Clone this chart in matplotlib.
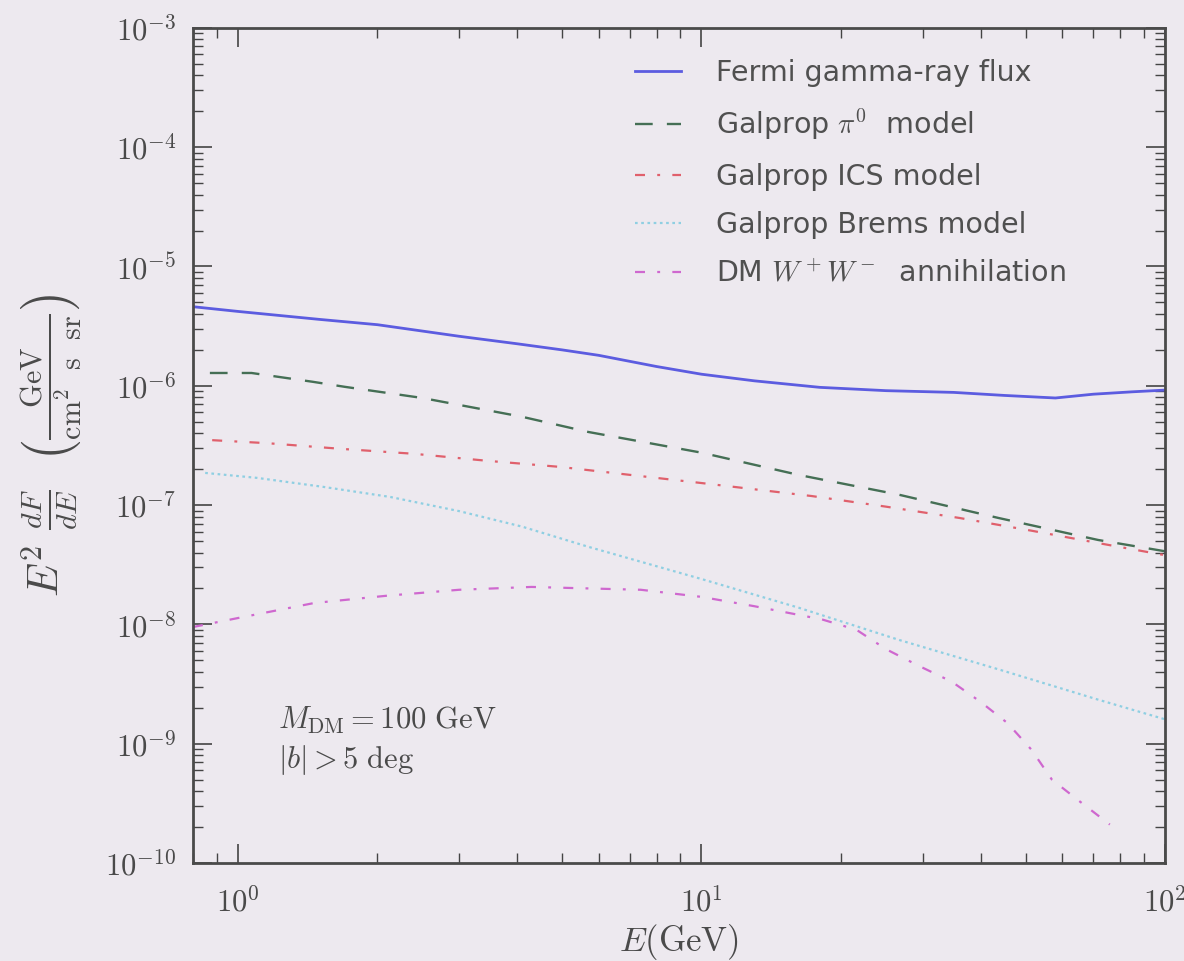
import numpy as np
import matplotlib
matplotlib.use("Agg")
import matplotlib.pyplot as plt
from matplotlib.ticker import FuncFormatter, LogLocator

plt.rcParams['mathtext.fontset'] = 'cm'
plt.rcParams['font.family'] = 'DejaVu Sans'

# Fermi gamma-ray flux
E_fermi = [0.8, 1.0, 1.5, 2.0, 3.0, 4.0, 5.0, 6.0, 8.0, 10, 13, 18, 25, 35, 45, 58, 70, 85, 100]
F_fermi = [4.6e-6, 4.2e-6, 3.6e-6, 3.25e-6, 2.6e-6, 2.25e-6, 2.0e-6, 1.8e-6, 1.45e-6, 1.25e-6,
           1.1e-6, 0.97e-6, 0.91e-6, 0.88e-6, 0.83e-6, 0.79e-6, 0.85e-6, 0.89e-6, 0.92e-6]

# Galprop pi0
E_pi0 = [0.87, 1.07, 1.45, 1.7, 2.5, 4.1, 5.7, 10, 16.2, 26.7, 43.7, 71.7, 100]
F_pi0 = [1.28e-6, 1.28e-6, 1.08e-6, 9.8e-7, 7.9e-7, 5.5e-7, 4.1e-7, 2.75e-7, 1.79e-7, 1.22e-7,
         7.8e-8, 5.1e-8, 4.1e-8]

# Galprop ICS
E_ics = [0.88, 1.16, 1.67, 2.4, 3.45, 4.95, 10, 17.3, 25, 36, 51.5, 74, 100]
F_ics = [3.5e-7, 3.3e-7, 2.96e-7, 2.69e-7, 2.35e-7, 2.09e-7, 1.53e-7, 1.19e-7, 9.7e-8, 7.8e-8,
         6.1e-8, 4.7e-8, 3.8e-8]

# Galprop Brems
E_brems = [0.85, 1.1, 1.53, 2.13, 3.0, 4.1, 5.7, 10, 16.2, 26.7, 43.7, 71.7, 100]
F_brems = [1.86e-7, 1.69e-7, 1.42e-7, 1.17e-7, 8.9e-8, 6.6e-8, 4.47e-8, 2.4e-8, 1.38e-8, 7.4e-9,
           4.2e-9, 2.34e-9, 1.6e-9]

# DM W+W- annihilation
E_dm = [0.8, 1.0, 1.46, 2.1, 3.0, 4.3, 5.2, 7.4, 10, 13, 18.2, 21.6, 25, 29.4, 34.7, 40, 45.7,
        51.5, 57, 66, 76]
F_dm = [9.5e-9, 1.13e-8, 1.51e-8, 1.74e-8, 1.95e-8, 2.06e-8, 2.02e-8, 1.95e-8, 1.7e-8, 1.42e-8,
        1.1e-8, 9.0e-9, 6.2e-9, 4.5e-9, 3.3e-9, 2.24e-9, 1.49e-9, 8.9e-10, 5.0e-10, 3.2e-10, 2.1e-10]

bg = '#ede9ef'
txt = '#4a4a4a'

fig = plt.figure(figsize=(11.84, 9.61), dpi=100, facecolor=bg)
ax = fig.add_axes([0.163, 0.102, 0.821, 0.869], facecolor=bg)

ax.plot(E_fermi, F_fermi, color='#5c5ce0', lw=2.0, label='Fermi gamma-ray flux')
ax.plot(E_pi0, F_pi0, color='#456f55', lw=1.7, ls=(0, (7.5, 6)), label=r'Galprop $\pi^0$  model')
ax.plot(E_ics, F_ics, color='#e0606c', lw=1.6, ls=(0, (4.5, 5.5, 1.3, 5.5)), label='Galprop ICS model')
ax.plot(E_brems, F_brems, color='#8fcfe2', lw=1.6, ls=(0, (1.2, 1.6)), label='Galprop Brems model')
ax.plot(E_dm, F_dm, color='#cf68cf', lw=1.6, ls=(0, (4.5, 5.5, 1.3, 5.5)), label=r'DM $W^+W^-$  annihilation')

ax.set_xscale('log')
ax.set_yscale('log')
ax.set_xlim(0.8, 100)
ax.set_ylim(1e-10, 1e-3)

fmt = FuncFormatter(lambda v, p: r'$10^{%d}$' % int(round(np.log10(v))))
ax.xaxis.set_major_formatter(fmt)
ax.yaxis.set_major_formatter(fmt)
ax.yaxis.set_major_locator(LogLocator(base=10, numticks=20))
ax.yaxis.set_minor_locator(LogLocator(base=10, subs=np.arange(2, 10), numticks=20))

ax.tick_params(which='both', direction='in', top=True, right=True, colors='#444444',
               labelcolor=txt, labelsize=22)
ax.tick_params(which='major', length=14, width=1.2)
ax.tick_params(which='minor', length=7, width=1.0)
ax.tick_params(axis='x', which='major', pad=17)
ax.tick_params(axis='y', which='major', pad=12)
for s in ax.spines.values():
    s.set_color('#4a4a4a')
    s.set_linewidth(2)

ax.set_xlabel(r'$E(\rm GeV)$', fontsize=25, color=txt)
ax.xaxis.set_label_coords(0.5, -0.071)
ax.set_ylabel(r'$E^2\ \frac{dF}{dE}\ \ \left(\frac{\rm GeV}{\rm cm^2\ \ s\ \ sr}\right)$',
              fontsize=31, color=txt, labelpad=15)

ax.text(0.087, 0.171, r'$M_{\rm DM}=100\ {\rm GeV}$', transform=ax.transAxes,
        fontsize=22, color=txt, va='center')
ax.text(0.087, 0.123, r'$|b|>5\ {\rm deg}$', transform=ax.transAxes,
        fontsize=22, color=txt, va='center')

leg = ax.legend(loc='upper left', bbox_to_anchor=(0.455, 0.963), frameon=False, fontsize=20.5,
                handlelength=1.6, handletextpad=1.25, labelspacing=0.72, borderpad=0,
                borderaxespad=0)
for t in leg.get_texts():
    t.set_color('#505050')

fig.savefig('out.png', dpi=100, facecolor=bg)
